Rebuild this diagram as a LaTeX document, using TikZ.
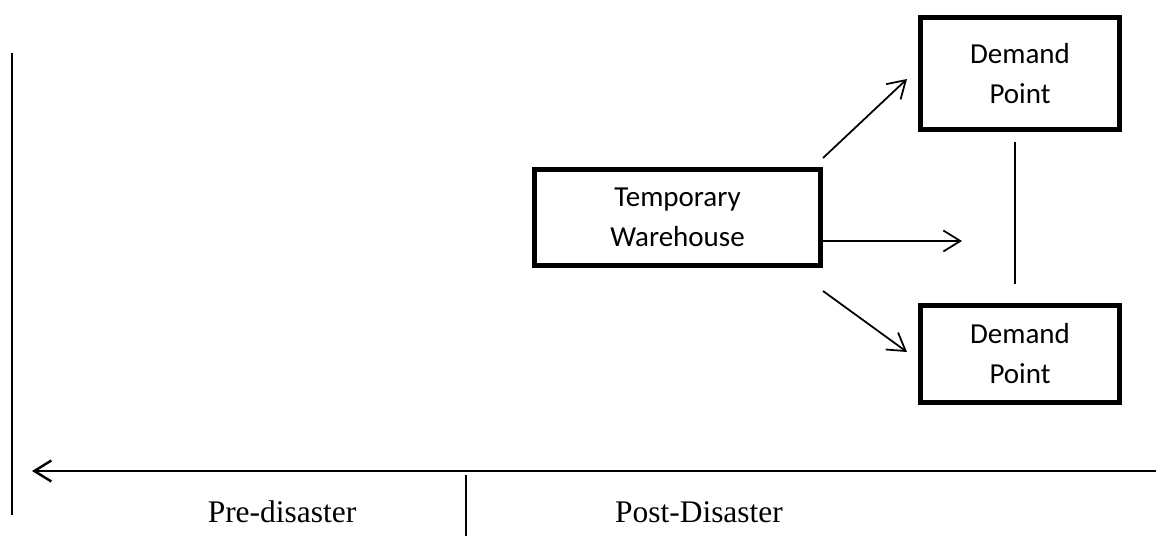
\documentclass[tikz,border=0pt]{standalone}
\usepackage{fontspec}
\setmainfont{Liberation Serif}
\newfontfamily\boxfont{Carlito}
\usetikzlibrary{arrows.meta,positioning}

\tikzset{
  site/.style={draw,rectangle,line width=2.8pt,align=center,inner sep=2pt,
    font=\boxfont\fontsize{16.5}{22.8}\selectfont},
  flow/.style={-{Straight Barb[length=0.34cm,width=0.42cm]},line width=1pt},
  phase/.style={anchor=base,font=\fontsize{17.9}{22}\selectfont},
}

\begin{document}
\begin{tikzpicture}[x=0.02cm,y=-0.02cm]
    \useasboundingbox (0,0) rectangle (1156,536);

    % facilities
    \node[site,minimum width=5.72cm,minimum height=1.92cm] (wh) at (677.5,217.5) {Temporary\\Warehouse};
    \node[site,minimum width=3.98cm,minimum height=2.24cm] (dp1) at (1020,73.5) {Demand\\Point};
    \node[site,minimum width=3.98cm,minimum height=1.94cm] (dp2) at (1020,354) {Demand\\Point};

    \coordinate (s1) at (823,158);
    \coordinate (s3) at (823,291);
    \coordinate (up) at (907,79);
    \coordinate (mid) at (962,241);
    \coordinate (dn) at (907,352);
    \coordinate (v1) at (1015,142);
    \coordinate (v2) at (1015,284);

    \draw[flow] (s1) -- (up);
    \draw[flow] (wh.east |- mid) -- (mid);
    \draw[flow] (s3) -- (dn);
    \draw[line width=1pt] (v1) -- (v2);

    % timeline
    \coordinate (t0) at (1156,471);
    \coordinate (t1) at (32,471);
    \coordinate (l0) at (12,53);
    \coordinate (l1) at (12,515);
    \coordinate (d0) at (466,475);
    \coordinate (d1) at (466,536);

    \draw[-{Straight Barb[length=0.34cm,width=0.42cm]},line width=1.4pt] (t0) -- (t1);
    \draw[line width=1.5pt] (l0) -- (l1);
    \draw[line width=1.3pt] (d0) -- (d1);

    \node[phase] (pre) at (282,522) {Pre-disaster};
    \node[phase] (post) at (699,522) {Post-Disaster};

\end{tikzpicture}
\end{document}
